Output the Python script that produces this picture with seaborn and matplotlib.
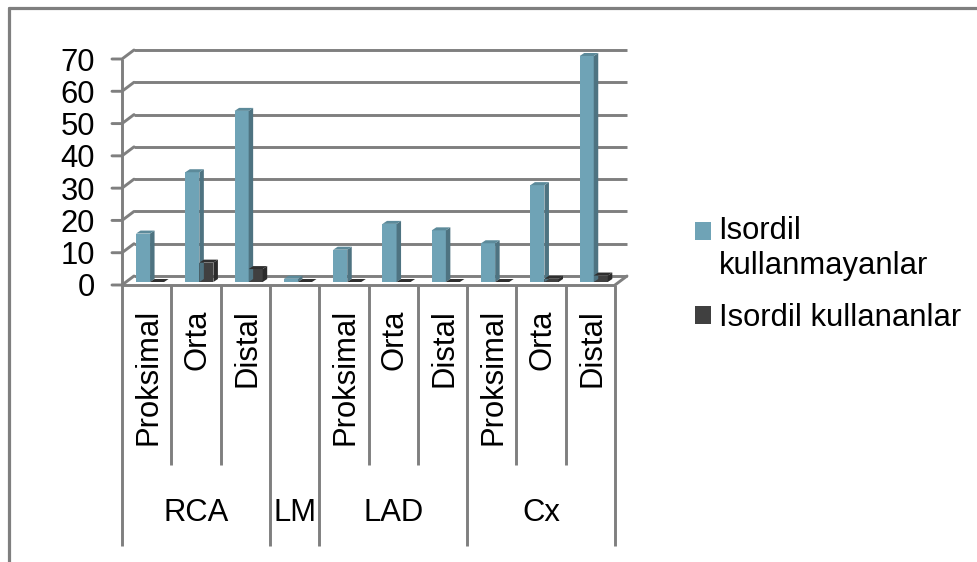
import numpy as np
import pandas as pd
import matplotlib
matplotlib.use('Agg')
import matplotlib.pyplot as plt
import seaborn as sns
from matplotlib.patches import Polygon
from matplotlib.transforms import Affine2D, blended_transform_factory

# Veriler
segments = ['Proksimal', 'Orta', 'Distal', '', 'Proksimal', 'Orta', 'Distal', 'Proksimal', 'Orta', 'Distal']
groups = ['RCA', 'LM', 'LAD', 'Cx']
group_sizes = [3, 1, 3, 3]
not_using = [15, 34, 53, 1, 10, 18, 16, 12, 30, 70]
using = [0, 6, 4, 0, 0, 0, 0, 0, 1, 2]
y_ticks = [0, 10, 20, 30, 40, 50, 60, 70]
series_names = ['Isordil\nkullanmayanlar', 'Isordil kullananlar']

W, H = 977, 562
GRAY = '#7f7f7f'
BLUE = '#6fa3b6'
DARK = '#404040'
FS = 22.3

sns.set_theme(style='white')
plt.rcParams['font.family'] = ['Liberation Sans', 'DejaVu Sans']

n = len(segments)
df = pd.DataFrame({
    'pos': list(range(n)) * 2,
    'value': not_using + using,
    'series': [series_names[0]] * n + [series_names[1]] * n,
})

fig = plt.figure(figsize=(W / 100, H / 100), dpi=100, facecolor='white')
# eksen = cubuklarin on yuzu duzlemi (piksel olarak)
left, right, y0, y70 = 125.4, 618.4, 282.0, 56.0
ax = fig.add_axes([left / W, 1 - y0 / H, (right - left) / W, (y0 - y70) / H])

sns.barplot(data=df, x='pos', y='value', hue='series', order=list(range(n)),
            palette=[BLUE, DARK], saturation=1, width=0.57, gap=0,
            linewidth=0, ax=ax, zorder=4, legend=True)
ax.set_xlim(-0.5, n - 0.5)
ax.set_ylim(0, 70)
ax.set_xlabel('')
ax.set_ylabel('')
for s in ax.spines.values():
    s.set_visible(False)
ax.patch.set_alpha(0)

ax.set_yticks(y_ticks)
ax.set_xticks(range(n))
ax.set_xticklabels(segments, rotation=90, fontsize=FS, color='black')
ax.set_yticklabels([str(t) for t in y_ticks], fontsize=FS, color='black')
ax.tick_params(axis='x', length=0, pad=19.5)
ax.tick_params(axis='y', length=0, pad=22)
for lab in ax.get_yticklabels():
    lab.set_transform(lab.get_transform() + Affine2D().translate(0, -3))
for lab in ax.get_xticklabels():
    lab.set_transform(lab.get_transform() + Affine2D().translate(-1.6, 0))

# piksel koordinati (sol ust kose) ve duzlem kaydirmalari
px = Affine2D().scale(1, -1).translate(0, H)
front = ax.transData + Affine2D().translate(-3.4, -3)
back = ax.transData + Affine2D().translate(8.6, 6)
x_px = blended_transform_factory(front, px)
lw = 2.1


def seg(xs, ys, tr, **kw):
    ax.plot(xs, ys, transform=tr, color=GRAY, lw=lw, clip_on=False,
            solid_capstyle='butt', **kw)


# arka izgara, sol duvar ve taban
for t in y_ticks:
    seg([-0.5, n - 0.5], [t, t], back, zorder=1)
    a = front.transform((-0.5, t))
    b = back.transform((-0.5, t))
    ax.plot([a[0] - 10, a[0], b[0]], [a[1], a[1], b[1]], transform=None, color=GRAY, lw=lw,
            clip_on=False, zorder=2)
seg([-0.5, -0.5], [0, 70], front, zorder=2)
seg([-0.5, n - 0.5], [0, 0], front, zorder=5)
a = front.transform((n - 0.5, 0))
b = back.transform((n - 0.5, 0))
ax.plot([a[0], b[0]], [a[1], b[1]], transform=None, color=GRAY, lw=lw, clip_on=False, zorder=2)

# kategori ayirici cizgileri
edges = np.cumsum([0] + group_sizes) - 0.5
for i in range(n + 1):
    x = i - 0.5
    bottom = 546 if x in edges else 465
    seg([x, x], [285, bottom], x_px, zorder=2)
start = 0
for name, size in zip(groups, group_sizes):
    ax.text(start + size / 2 - 0.5, 513, name, transform=x_px, ha='center', va='center',
            fontsize=FS, color='black', clip_on=False)
    start += size

# cubuklarin yan ve ust yuzleri (sahte 3B)
dx, dy = 4.5, 3.0
shades = {BLUE: ('#4e7381', '#5c8a9a'), DARK: ('#2b2b2b', '#2f2f2f')}
for bar in list(ax.patches):
    if bar.get_width() == 0:
        continue
    c = matplotlib.colors.to_hex(bar.get_facecolor())
    side, top = shades[BLUE if c == BLUE else DARK]
    x1, y1 = bar.get_x(), bar.get_y()
    x2, y2 = x1 + bar.get_width(), y1 + bar.get_height()
    (p0, q0), (p1, q1) = ax.transData.transform([(x1, y1), (x2, y2)])
    ax.add_patch(Polygon([(p1, q0), (p1 + dx, q0 + dy), (p1 + dx, q1 + dy), (p1, q1)],
                         transform=None, fc=side, ec='none', zorder=4, clip_on=False))
    ax.add_patch(Polygon([(p0, q1), (p1, q1), (p1 + dx, q1 + dy), (p0 + dx, q1 + dy)],
                         transform=None, fc=top, ec='none', zorder=4, clip_on=False))

# lejant
handles, labels = ax.get_legend_handles_labels()
ax.get_legend().remove()
leg = fig.legend(handles, labels, loc='upper left', bbox_to_anchor=(695 / W, 1 - 216 / H),
                 frameon=False, fontsize=FS, handlelength=0.52, handleheight=0.5,
                 handletextpad=0.24, labelspacing=0.72, borderpad=0, borderaxespad=0,
                 labelcolor='black')
# ilk kutu metnin ilk satiri hizasinda
leg.get_patches()[0].set_y(leg.get_patches()[0].get_y() + 13)

# dis cerceve (yalniz ust ve sol)
fig.add_artist(plt.Line2D([9, W], [8, 8], transform=px, color=GRAY, lw=2.3))
fig.add_artist(plt.Line2D([9, 9], [8, H], transform=px, color=GRAY, lw=2.3))

fig.savefig('out.png', dpi=100, facecolor='white')
